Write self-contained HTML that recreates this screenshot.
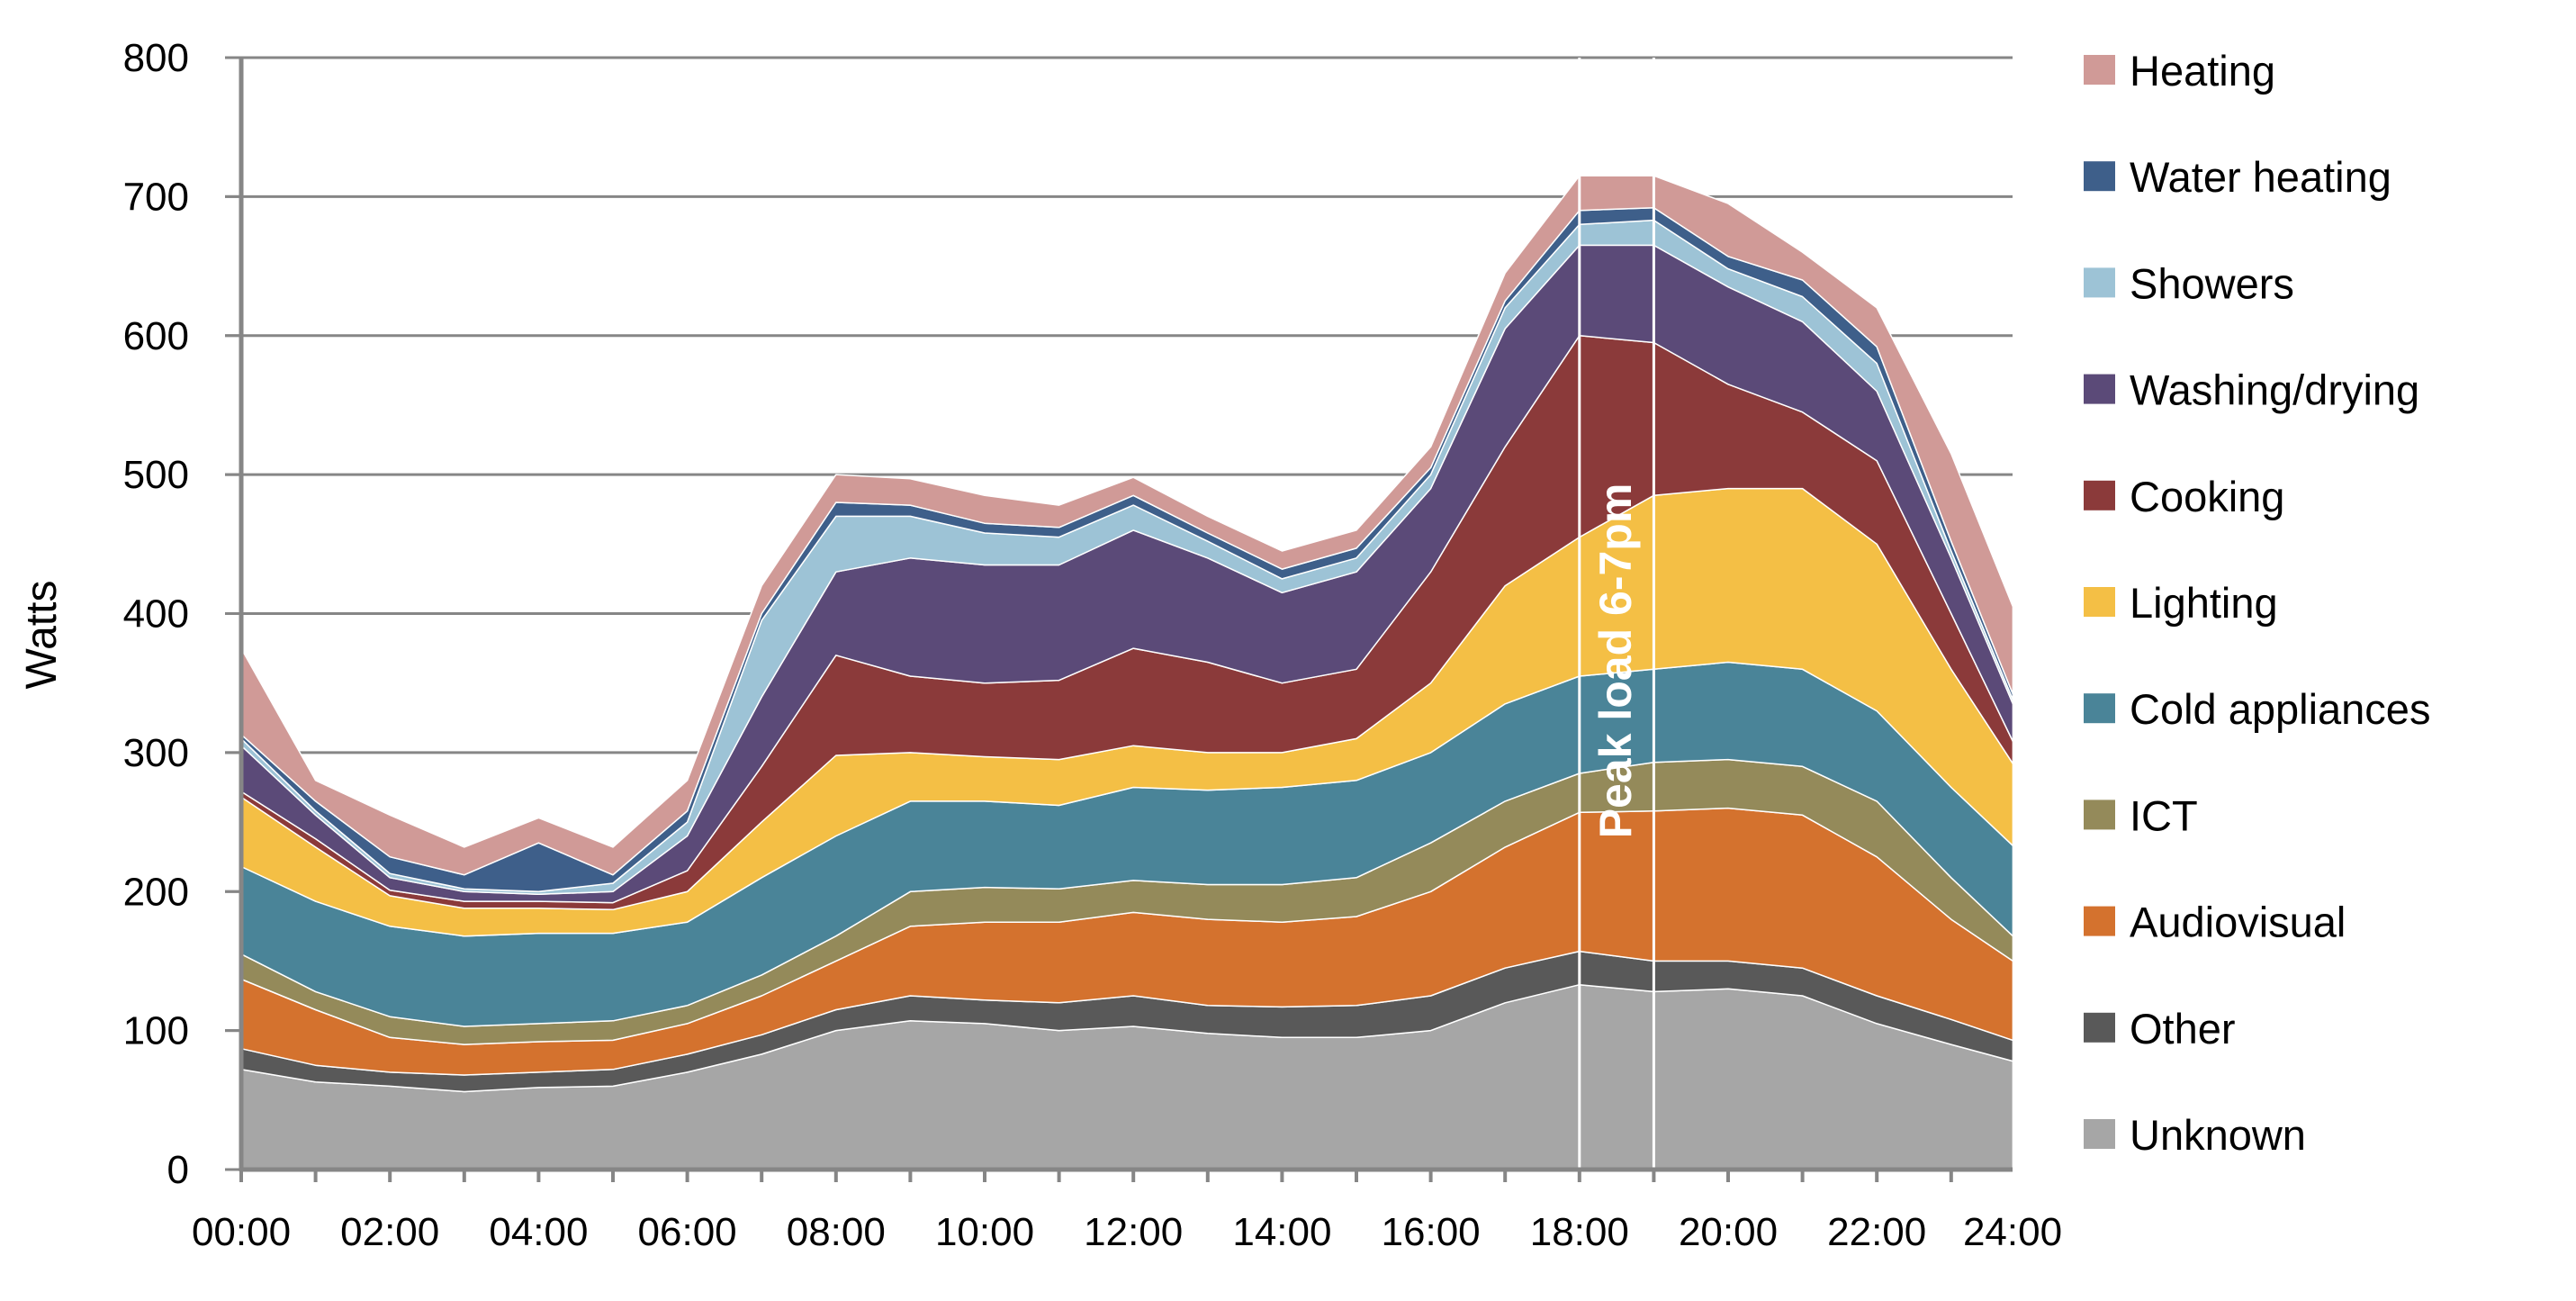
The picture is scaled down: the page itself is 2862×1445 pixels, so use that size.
<!DOCTYPE html>
<html><head><meta charset="utf-8"><style>
html,body{margin:0;padding:0;background:#fff;}
svg text{font-family:"Liberation Sans",sans-serif;}
</style></head><body>
<svg id="chart" width="2862" height="1440" viewBox="0 0 2862 1440" xmlns="http://www.w3.org/2000/svg">
<g id="grid"></g>
<g id="areas"></g>
<g id="axes"></g>
<g id="legend"></g>
<text x="0" y="0" transform="translate(62,705) rotate(-90)" font-size="48" text-anchor="middle" fill="#000">Watts</text>
</svg>
<script>
const hours = [0,1,2,3,4,5,6,7,8,9,10,11,12,13,14,15,16,17,18,19,20,21,22,23,23.83];
const seriesNames = ["Unknown","Other","Audiovisual","ICT","Cold appliances","Lighting","Cooking","Washing/drying","Showers","Water heating","Heating"];
const seriesColors = ["#a6a6a6","#595959","#d4722e","#948a5a","#4a8498","#f4bf45","#8b3a3a","#5b4a78","#9dc3d6","#3e5f8a","#d09a97"];
const unknownVals = [72,63,60,56,59,60,70,83,100,107,105,100,103,98,95,95,100,120,133,128,130,125,105,90,78];
const otherVals = [15,12,10,12,11,12,13,14,15,18,17,20,22,20,22,23,25,25,24,22,20,20,20,18,15];
const audiovisualVals = [50,40,25,22,22,21,22,28,35,50,56,58,60,62,61,64,75,87,100,108,110,110,100,72,57];
const ictVals = [18,13,15,13,13,14,13,15,18,25,25,24,23,25,27,28,35,33,28,35,35,35,40,30,18];
const coldVals = [63,65,65,65,65,63,60,70,72,65,62,60,67,68,70,70,65,70,70,67,70,70,65,65,65];
const lightingVals = [50,39,22,20,18,17,22,40,58,35,32,33,30,27,25,30,50,85,100,125,125,130,120,85,59];
const cookingVals = [4,6,4,5,5,5,15,40,72,55,53,57,70,65,50,50,80,100,145,110,75,55,60,40,16];
const washingVals = [33,17,9,7,5,8,25,50,60,85,85,83,85,75,65,70,60,85,65,70,70,65,50,40,27];
const showersVals = [5,3,3,2,2,6,10,55,40,30,23,20,18,12,10,10,10,15,15,18,13,18,20,5,3];
const waterHeatingVals = [3,7,12,10,35,6,8,5,10,8,7,7,7,6,7,7,5,5,10,9,9,12,12,7,4];
const heatingVals = [62,15,30,20,18,20,22,20,20,19,20,16,13,12,13,13,15,20,25,23,38,20,28,63,63];
const seriesVals = [unknownVals,otherVals,audiovisualVals,ictVals,coldVals,lightingVals,cookingVals,washingVals,showersVals,waterHeatingVals,heatingVals];
const yTicks = [0,100,200,300,400,500,600,700,800];
const xTickLabels = ["00:00","02:00","04:00","06:00","08:00","10:00","12:00","14:00","16:00","18:00","20:00","22:00"];

const NS="http://www.w3.org/2000/svg";
const X0=268, PXH=82.6, Y0=1299, YTOP=64;
const xs = h => X0 + h*PXH;
const ys = v => Y0 - (v/800)*(Y0-YTOP);
function mk(tag, attrs, parent){const e=document.createElementNS(NS,tag);for(const k in attrs)e.setAttribute(k,attrs[k]);parent.appendChild(e);return e;}
const grid=document.getElementById('grid'), areas=document.getElementById('areas'), axes=document.getElementById('axes'), legend=document.getElementById('legend');
const XR=2236;
yTicks.forEach(v=>{
  if(v>0){const l=mk('line',{x1:250,x2:XR,y1:ys(v),y2:ys(v),stroke:'#868686','stroke-width':3},grid);
  
  }
  const tk=mk('line',{x1:250,x2:268,y1:ys(v),y2:ys(v),stroke:'#868686','stroke-width':3},axes);
  
  
  const t=mk('text',{x:210,y:ys(v)+15,'font-size':44,'text-anchor':'end',fill:'#000'},axes);
  t.textContent=v;
  
  
});
// stacked areas
let base=hours.map(()=>0);
seriesVals.forEach((vals,si)=>{
  const top=base.map((b,i)=>b+vals[i]);
  let d='M'+hours.map((h,i)=>xs(h).toFixed(1)+','+ys(top[i]).toFixed(1)).join(' L');
  for(let i=hours.length-1;i>=0;i--) d+=' L'+xs(hours[i]).toFixed(1)+','+ys(base[i]).toFixed(1);
  d+='Z';
  const p=mk('path',{d:d,fill:seriesColors[si],stroke:'#fff','stroke-width':1.5,'stroke-linejoin':'round'},areas);
  
  
  base=top;
});
// peak band lines
[18,19].forEach(h=>{
  const l=mk('line',{x1:xs(h),x2:xs(h),y1:YTOP,y2:Y0,stroke:'#fff','stroke-width':3},areas);
  
  
});
const pk=mk('text',{transform:'translate('+(xs(18.5)+16)+',734) rotate(-90)','font-size':50,'font-weight':'bold','text-anchor':'middle',fill:'#fff'},areas);
pk.textContent='Peak load 6-7pm';


// axes lines
const ya=mk('line',{x1:X0,x2:X0,y1:YTOP,y2:Y0+2,stroke:'#868686','stroke-width':5},axes);


const xa=mk('line',{x1:X0,x2:XR,y1:Y0,y2:Y0,stroke:'#868686','stroke-width':5},axes);


for(let k=0;k<24;k++){
  const t=mk('line',{x1:xs(k),x2:xs(k),y1:Y0,y2:Y0+14,stroke:'#868686','stroke-width':4},axes);
  
  
}
xTickLabels.forEach((lab,i)=>{
  const t=mk('text',{x:xs(i*2),y:1383,'font-size':44,'text-anchor':'middle',fill:'#000'},axes);
  t.textContent=lab;
  
  
});
const last=mk('text',{x:2236,y:1383,'font-size':44,'text-anchor':'middle',fill:'#000'},axes);
last.textContent='24:00';


// legend (top-down reversed order)
for(let j=0;j<seriesNames.length;j++){
  const si=seriesNames.length-1-j;
  const cy=78+j*118.2;
  const g=mk('g',{},legend);
  
  
  const r=mk('rect',{x:2315,y:cy-17,width:35,height:33,fill:seriesColors[si]},g);
  
  
  const t=mk('text',{x:2366,y:cy+17,'font-size':47,fill:'#000'},g);
  t.textContent=seriesNames[si];
  
  
}
</script>
</body></html>
